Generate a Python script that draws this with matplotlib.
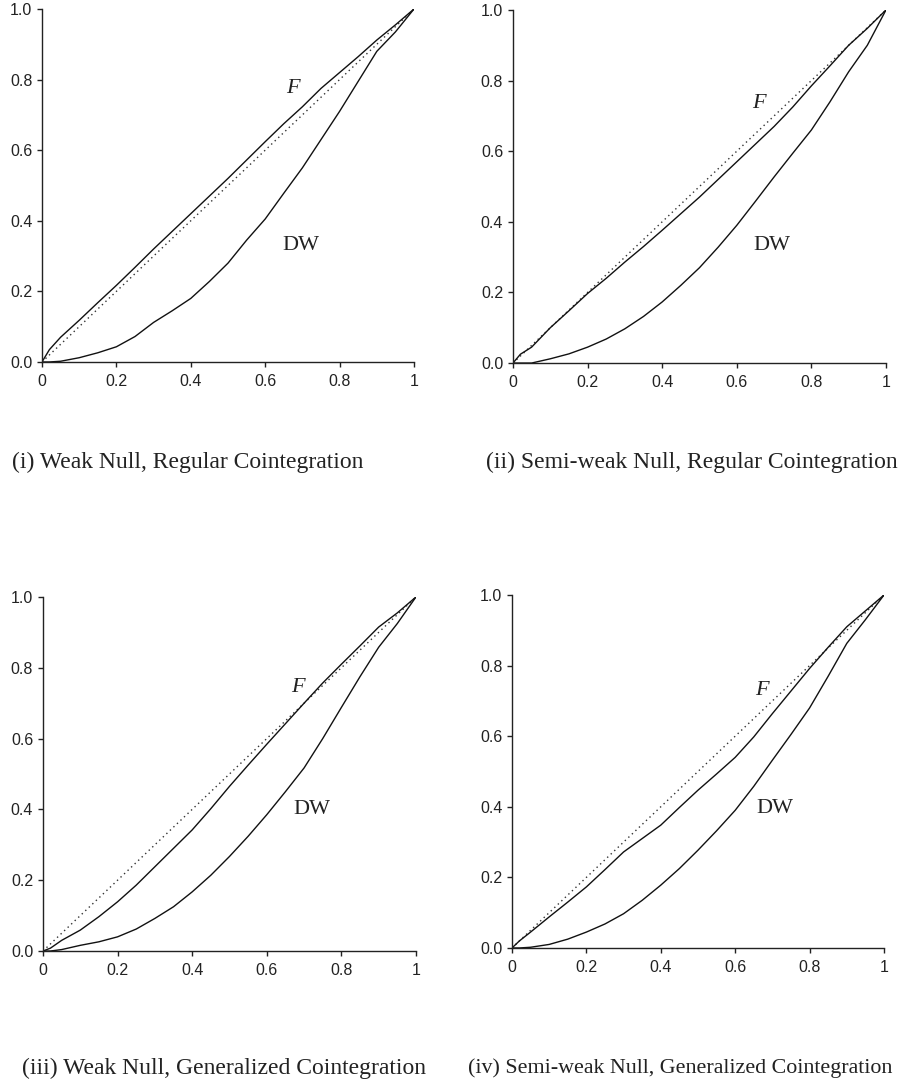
import matplotlib
matplotlib.use('Agg')
from matplotlib import pyplot as plt
import numpy as np

# ------- data (x grid shared by all curves) -------
xgrid = [0.0, 0.02, 0.05, 0.1, 0.15, 0.2, 0.25, 0.3, 0.35, 0.4, 0.45, 0.5,
         0.55, 0.6, 0.65, 0.7, 0.75, 0.8, 0.85, 0.9, 0.95, 1.0]

# (i) Weak Null, Regular Cointegration
F_1 = [0.0, 0.035, 0.07, 0.118, 0.168, 0.217, 0.268, 0.32, 0.37, 0.42, 0.47, 0.52,
       0.572, 0.624, 0.675, 0.723, 0.775, 0.82, 0.865, 0.912, 0.955, 1.0]
DW_1 = [0.0, 0.0, 0.002, 0.012, 0.026, 0.043, 0.072, 0.112, 0.145, 0.18, 0.228, 0.28,
        0.345, 0.405, 0.478, 0.55, 0.63, 0.71, 0.795, 0.88, 0.935, 1.0]

# (ii) Semi-weak Null, Regular Cointegration
F_2 = [0.0, 0.025, 0.045, 0.10, 0.148, 0.197, 0.24, 0.286, 0.33, 0.376, 0.423, 0.47,
       0.52, 0.57, 0.62, 0.67, 0.725, 0.785, 0.842, 0.90, 0.948, 1.0]
DW_2 = [0.0, 0.0, 0.0, 0.012, 0.026, 0.045, 0.068, 0.097, 0.132, 0.173, 0.22, 0.27,
        0.328, 0.39, 0.458, 0.527, 0.594, 0.66, 0.74, 0.825, 0.9, 1.0]

# (iii) Weak Null, Generalized Cointegration
F_3 = [0.0, 0.008, 0.03, 0.059, 0.097, 0.139, 0.186, 0.238, 0.29, 0.342, 0.402, 0.465,
       0.525, 0.584, 0.642, 0.70, 0.757, 0.81, 0.862, 0.915, 0.955, 1.0]
DW_3 = [0.0, 0.0, 0.004, 0.016, 0.026, 0.04, 0.062, 0.092, 0.125, 0.167, 0.214, 0.267,
        0.324, 0.385, 0.45, 0.517, 0.6, 0.688, 0.775, 0.858, 0.925, 1.0]

# (iv) Semi-weak Null, Generalized Cointegration
F_4 = [0.0, 0.02, 0.045, 0.088, 0.13, 0.173, 0.222, 0.272, 0.31, 0.348, 0.398, 0.447,
       0.493, 0.54, 0.598, 0.664, 0.728, 0.792, 0.852, 0.91, 0.955, 1.0]
DW_4 = [0.0, 0.0, 0.002, 0.01, 0.025, 0.045, 0.068, 0.097, 0.135, 0.178, 0.225, 0.277,
        0.332, 0.39, 0.458, 0.532, 0.605, 0.68, 0.77, 0.863, 0.93, 1.0]

captions = ['(i) Weak Null, Regular Cointegration',
            '(ii) Semi-weak Null, Regular Cointegration',
            '(iii) Weak Null, Generalized Cointegration',
            '(iv) Semi-weak Null, Generalized Cointegration']

# label anchor points (x, y) for "F" and "DW" in each panel
F_pos = [(0.657, 0.775), (0.64, 0.735), (0.665, 0.745), (0.653, 0.73)]
DW_pos = [(0.646, 0.33), (0.645, 0.334), (0.67, 0.40), (0.656, 0.395)]

Fs = [F_1, F_2, F_3, F_4]
DWs = [DW_1, DW_2, DW_3, DW_4]

# axes rectangles in figure fraction
rects = [[0.0467, 0.6664, 0.4138, 0.3253],
         [0.5706, 0.6654, 0.4149, 0.3254],
         [0.0478, 0.1235, 0.4149, 0.3263],
         [0.5695, 0.1263, 0.4138, 0.3253]]
cap_xy = [(0.0133, 0.574), (0.5406, 0.574), (0.0245, 0.0157), (0.521, 0.0157)]
cap_size = [17, 17, 17, 15.8]

plt.rcParams['font.family'] = ['Liberation Sans', 'DejaVu Sans']
SERIF = ['Liberation Serif', 'DejaVu Serif']

fig = plt.figure(figsize=(8.99, 10.85), dpi=100)

for k in range(4):
    ax = fig.add_axes(rects[k])
    ax.plot([0, 1], [0, 1], color='#333333', linestyle=(0, (1, 2.5)), linewidth=1.0)
    ax.plot(xgrid, Fs[k], color='#111111', linewidth=1.0)
    ax.plot(xgrid, DWs[k], color='#111111', linewidth=1.0)
    ax.set_xlim(0, 1)
    ax.set_ylim(0, 1)
    ax.set_xticks([0, 0.2, 0.4, 0.6, 0.8, 1.0])
    ax.set_xticklabels(['0', '0.2', '0.4', '0.6', '0.8', '1'])
    ax.set_yticks([0, 0.2, 0.4, 0.6, 0.8, 1.0])
    ax.set_yticklabels(['0.0', '0.2', '0.4', '0.6', '0.8', '1.0'])
    ax.spines['top'].set_visible(False)
    ax.spines['right'].set_visible(False)
    for s in ['left', 'bottom']:
        ax.spines[s].set_linewidth(1.0)
        ax.spines[s].set_color('#222222')
    ax.tick_params(direction='out', length=3.6, width=1.0, labelsize=11.5,
                   colors='#222222')
    ax.tick_params(axis='x', pad=5.0)
    ax.tick_params(axis='y', pad=3.4)
    ax.text(F_pos[k][0], F_pos[k][1], 'F', family=SERIF, style='italic',
            fontsize=16, color='#222222', ha='left', va='center')
    ax.text(DW_pos[k][0], DW_pos[k][1], 'DW', family=SERIF,
            fontsize=16, color='#222222', ha='left', va='center')
    fig.text(cap_xy[k][0], cap_xy[k][1], captions[k], family=SERIF,
             fontsize=cap_size[k], color='#222222', ha='left', va='center')

fig.savefig('out.png', dpi=100)
